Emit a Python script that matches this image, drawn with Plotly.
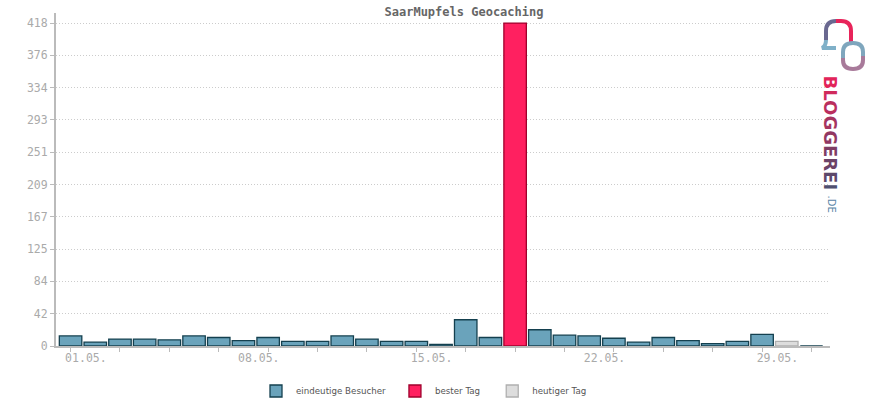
import plotly.graph_objects as go

days = list(range(1, 32))
visitors = [13, 5, 9, 9, 8, 13, 11, 7, 11, 6, 6, 13, 9, 6, 6, 2,
            34, 11, 418, 21, 14, 13, 10, 5, 11, 7, 3, 6, 15, 6, 0]
best_day = 19
today = 30
y_ticks = [0, 41.8, 83.6, 125.4, 167.2, 209, 250.8, 292.6, 334.4, 376.2, 418]
y_labels = ["0", "42", "84", "125", "167", "209", "251", "293", "334", "376", "418"]
x_label_days = [1, 8, 15, 22, 29]
x_labels = ["01.05.", "08.05.", "15.05.", "22.05.", "29.05."]

normal_x = [d for d in days if d not in (best_day, today)]
normal_y = [v for d, v in zip(days, visitors) if d not in (best_day, today)]
best_y = [visitors[days.index(best_day)]]
today_y = [visitors[days.index(today)]]

W, H = 870, 400
ML, MR, MT, MB = 56, 40, 13, 54
PW, PH = W - ML - MR, H - MT - MB


def px(x):
    return (x - ML) / PW


def py(y):
    return (H - MB - y) / PH


mono = "DejaVu Sans Mono"
fig = go.Figure()
fig.add_trace(go.Bar(x=normal_x, y=normal_y, name="eindeutige Besucher\u2002",
                     marker=dict(color="#6aa3bb", line=dict(color="#14404f", width=1.3))))
fig.add_trace(go.Bar(x=[best_day], y=best_y, name="bester Tag\u2002\u00a0",
                     marker=dict(color="#ff2060", line=dict(color="#a0002c", width=1.3))))
fig.add_trace(go.Bar(x=[today], y=today_y, name="heutiger Tag",
                     marker=dict(color="#dddddd", line=dict(color="#b0b0b0", width=1.3))))

fig.update_layout(
    width=W, height=H,
    margin=dict(l=ML, r=MR, t=MT, b=MB, autoexpand=False),
    paper_bgcolor="white", plot_bgcolor="white",
    bargap=0.09, barmode="overlay",
    title=dict(text="<b>SaarMupfels Geocaching</b>", x=464 / W, xref="container", xanchor="center",
               y=1 - 12 / H, yref="container", yanchor="middle",
               font=dict(family=mono, size=12, color="#666666")),
    showlegend=True,
    legend=dict(orientation="h", x=256 / W, xanchor="left", xref="container",
                y=9 / H, yanchor="middle", yref="container",
                font=dict(family="DejaVu Sans", size=8.7, color="#555555"),
                itemwidth=30),
    font=dict(family=mono, size=11, color="#aaaaaa"),
)
fig.update_xaxes(range=[0.41, 31.75], showgrid=False, zeroline=False,
                 showline=True, linecolor="#bbbbbb", linewidth=2,
                 tickmode="array", tickvals=[d + 0.62 for d in x_label_days], ticktext=x_labels,
                 ticks="", tickfont=dict(family=mono, size=11.5, color="#aaaaaa"),
                 minor=dict(tickmode="array", tickvals=list(range(1, 32, 2)), ticks="outside",
                            ticklen=4, tickcolor="#bbbbbb", tickwidth=1, showgrid=False),
                 layer="above traces", fixedrange=True, automargin=False)
fig.update_yaxes(range=[0, 431], showgrid=True, gridcolor="#cccccc", griddash="1px,2px", gridwidth=1,
                 zeroline=False, showline=True, linecolor="#bbbbbb", linewidth=2,
                 tickmode="array", tickvals=y_ticks, ticktext=y_labels,
                 ticks="outside", ticklen=4, tickcolor="#bbbbbb",
                 tickfont=dict(family=mono, size=11.5, color="#aaaaaa"), fixedrange=True,
                 automargin=False)

# Bloggerei logo (decoration)
logo_letters = "BLOGGEREI"
logo_colors = ["#e2245a", "#d02a5c", "#ba2f5e", "#a63460", "#923862",
               "#7e3d64", "#6c4367", "#5c496b", "#4f5070"]
logo_text = "".join(f"<span style='color:{c}'>{ch}</span>" for ch, c in zip(logo_letters, logo_colors))
fig.add_annotation(text=f"<b>{logo_text}</b>", xref="paper", yref="paper", x=px(830), xanchor="center",
                   y=py(73), yanchor="top", textangle=90, showarrow=False,
                   font=dict(family="DejaVu Sans", size=18, color="#983462"))
fig.add_annotation(text=".DE", xref="paper", yref="paper", x=px(831), xanchor="center",
                   y=py(193), yanchor="top", textangle=90, showarrow=False,
                   font=dict(family="DejaVu Sans", size=10, color="#5a86a8"))


def pth(points):
    out = []
    for cmd, *xy in points:
        coords = []
        for i in range(0, len(xy), 2):
            coords.append(f"{px(xy[i]):.5f},{py(xy[i + 1]):.5f}")
        out.append(cmd + " " + " ".join(coords))
    return " ".join(out)


arch_tail = pth([("M", 836, 48), ("L", 822, 48), ("Q", 826, 46, 826, 40)])
arch_left = pth([("M", 826, 40), ("L", 826, 31), ("Q", 826, 21, 836, 21)])
arch_right = pth([("M", 836, 21), ("L", 841, 21), ("Q", 851, 21, 851, 31), ("L", 851, 44)])
ring_a = pth([("M", 863, 56), ("L", 863, 52), ("Q", 863, 43, 853, 43), ("Q", 843, 43, 843, 52),
              ("L", 843, 58)])
ring_b = pth([("M", 843, 58), ("L", 843, 60), ("Q", 843, 69, 853, 69), ("Q", 863, 69, 863, 60),
              ("L", 863, 56)])
fig.add_shape(type="path", xref="paper", yref="paper", path=arch_tail,
              line=dict(color="#7fb0c8", width=4))
fig.add_shape(type="path", xref="paper", yref="paper", path=arch_left,
              line=dict(color="#6a6890", width=4))
fig.add_shape(type="path", xref="paper", yref="paper", path=arch_right,
              line=dict(color="#e8245a", width=4))
fig.add_shape(type="path", xref="paper", yref="paper", path=ring_a,
              line=dict(color="#7fa6bd", width=4))
fig.add_shape(type="path", xref="paper", yref="paper", path=ring_b,
              line=dict(color="#a87a9a", width=4))

fig.write_html("out.html", config={"displayModeBar": False},
               post_script="document.body.style.margin='0';")
